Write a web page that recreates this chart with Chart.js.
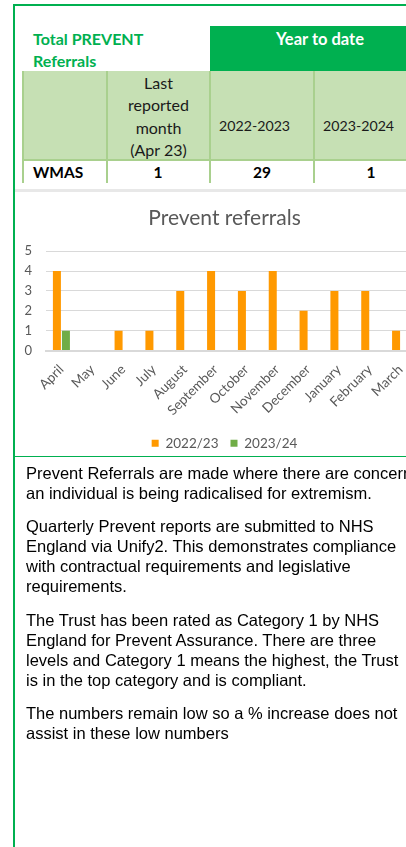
<!DOCTYPE html>
<html>
<head>
<meta charset="utf-8">
<script src="https://cdn.jsdelivr.net/npm/chart.js@4/dist/chart.umd.min.js"></script>
<style>
  html, body { margin: 0; padding: 0; background: #fff; }
  body { width: 406px; height: 847px; overflow: hidden; position: relative; font-family: Lato, "Open Sans", sans-serif; }
  .abs { position: absolute; white-space: nowrap; }
  .frame-left { left: 13px; top: 4px; width: 2px; height: 843px; background: #00b050; }
  .frame-top { left: 13px; top: 4px; width: 400px; height: 2px; background: #00b050; }
  .sep-grey { left: 15px; top: 189px; width: 400px; height: 3px; background: #e8e8e8; }
  .sep-green { left: 15px; top: 456px; width: 400px; height: 1px; background: #00b050; }
  .hdr-title { left: 33px; top: 28px; font-weight: bold; font-size: 16px; line-height: 22px; color: #00b050; }
  .ytd { left: 210px; top: 26px; width: 220px; height: 45px; background: #00b050; color: #fff; font-weight: bold; font-size: 16.5px; line-height: 22px; text-align: center; padding-top: 2px; box-sizing: border-box; }
  .row2 { left: 23px; top: 71px; width: 400px; height: 89px; background: #c6e0b4; }
  .vline { width: 2px; background: #a9d08e; top: 71px; height: 112px; }
  .hline { left: 23px; top: 159px; width: 400px; height: 2px; background: #a9d08e; }
  .cell { font-size: 16px; line-height: 22.3px; color: #1a1a1a; }
  .year { font-size: 14.2px; line-height: 22px; color: #1a1a1a; top: 115px; }
  .num { font-size: 15.5px; font-weight: bold; line-height: 22px; color: #000; text-align: center; width: 100px; top: 161px; }
  #chartBox { left: 14px; top: 195px; width: 421px; height: 265px; }
  .text { left: 26px; font-family: "Liberation Sans", Arial, sans-serif; font-size: 16.5px; line-height: 20px; color: #000; }
</style>
</head>
<body>
<div class="abs frame-left"></div>
<div class="abs frame-top"></div>

<div class="abs hdr-title">Total PREVENT<br>Referrals</div>
<div class="abs ytd">Year to date</div>
<div class="abs row2"></div>
<div class="abs hline"></div>
<div class="abs vline" style="left:22px"></div>
<div class="abs vline" style="left:106px"></div>
<div class="abs vline" style="left:209px"></div>
<div class="abs vline" style="left:313px"></div>

<div class="abs cell" style="left:108px; width:101px; top:72px; text-align:center;">Last<br>reported<br>month<br>(Apr 23)</div>
<div class="abs year" style="left:219px;">2022-2023</div>
<div class="abs year" style="left:323px;">2023-2024</div>

<div class="abs num" style="left:33px; width:auto; text-align:left;">WMAS</div>
<div class="abs num" style="left:108px;">1</div>
<div class="abs num" style="left:212px;">29</div>
<div class="abs num" style="left:321px;">1</div>

<div class="abs sep-grey"></div>

<div class="abs" id="chartBox"><canvas id="chartCanvas"></canvas></div>

<div class="abs sep-green"></div>

<div class="abs text" style="top:463px;">Prevent Referrals are made where there are concerns that<br>an individual is being radicalised for extremism.</div>
<div class="abs text" style="top:516px;">Quarterly Prevent reports are submitted to NHS<br>England via Unify2. This demonstrates compliance<br>with contractual requirements and legislative<br>requirements.</div>
<div class="abs text" style="top:610px;">The Trust has been rated as Category 1 by NHS<br>England for Prevent Assurance. There are three<br>levels and Category 1 means the highest, the Trust<br>is in the top category and is compliant.</div>
<div class="abs text" style="top:703px;">The numbers remain low so a % increase does not<br>assist in these low numbers</div>

<script>
var MONTHS = ['April', 'May', 'June', 'July', 'August', 'September', 'October',
  'November', 'December', 'January', 'February', 'March']
var REFERRALS_2022_23 = [4, 0, 1, 1, 3, 4, 3, 4, 2, 3, 3, 1]
var REFERRALS_2023_24 = [1, null, null, null, null, null, null, null, null, null, null, null]
var Y_TICKS = [0, 1, 2, 3, 4, 5]

var GREY = '#595959'

var data = {
  labels: MONTHS,
  datasets: [
    { label: '2022/23', data: REFERRALS_2022_23, backgroundColor: '#ff9900', borderWidth: 0 },
    { label: '2023/24', data: REFERRALS_2023_24, backgroundColor: '#70ad47', borderWidth: 0 }
  ]
}

var options = {
  responsive: false,
  animation: false,
  layout: { padding: 0 },
  datasets: { bar: { categoryPercentage: 0.584, barPercentage: 0.89 } },
  plugins: {
    title: {
      display: true, text: 'Prevent referrals', color: GREY,
      font: { family: 'Lato', size: 21, weight: 'normal' },
      padding: { top: 11, bottom: 20 }
    },
    legend: {
      position: 'bottom',
      labels: { boxWidth: 7, boxHeight: 7, color: GREY, padding: 12, font: { family: 'Lato', size: 13.5 } }
    },
    tooltip: { enabled: false }
  },
  scales: {
    x: {
      grid: { display: false },
      border: { display: true, color: '#d9d9d9', width: 2 },
      ticks: { color: GREY, minRotation: 45, maxRotation: 45, padding: 3, font: { family: 'Lato', size: 13.5 } },
      afterFit: function (scale) {
        scale.height = 74
        scale.paddingLeft = 0
        scale.paddingRight = 19
      }
    },
    y: {
      min: Y_TICKS[0], max: Y_TICKS[Y_TICKS.length - 1],
      grid: { color: '#d9d9d9', drawTicks: false, tickLength: 0 },
      border: { display: false },
      ticks: { stepSize: 1, color: GREY, padding: 14, font: { family: 'Lato', size: 13 } },
      afterFit: function (scale) { scale.width = 32 }
    }
  }
}

var canvas = document.getElementById('chartCanvas')
canvas.width = 421
canvas.height = 265
new Chart(canvas, { type: 'bar', data: data, options: options })
</script>
</body>
</html>
